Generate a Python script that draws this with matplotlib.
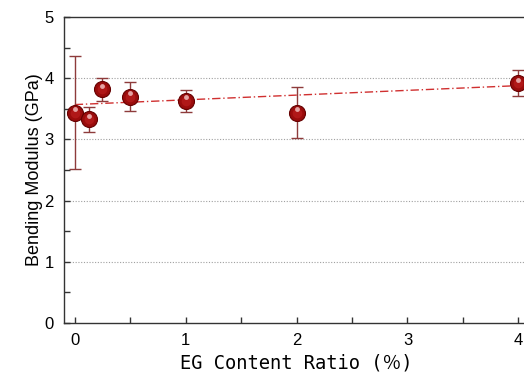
import numpy as np
import matplotlib
matplotlib.use("Agg")
import matplotlib.pyplot as plt
import matplotlib.transforms as mtransforms

# EG content ratio (%) and bending modulus (GPa)
eg_ratio = [0, 0.125, 0.25, 0.5, 1, 2, 4]
modulus = [3.44, 3.33, 3.82, 3.70, 3.63, 3.44, 3.92]
modulus_err = [0.92, 0.20, 0.19, 0.24, 0.18, 0.42, 0.21]

# linear trend line endpoints
trend_x = [0, 4]
trend_y = [3.57, 3.88]

fig = plt.figure(figsize=(5.24, 3.8), dpi=100)
ax = fig.add_axes([0.1215, 0.15, 0.889, 0.805])

ax.plot(trend_x, trend_y, color="#d03030", lw=1.0, ls=(0, (6, 2, 1, 2)), zorder=2)

ax.errorbar(eg_ratio, modulus, yerr=modulus_err, fmt="none",
            ecolor="#8e3b3b", elinewidth=1.0, capsize=4, capthick=1.0, zorder=3)

ax.plot(eg_ratio, modulus, "o", ms=11.5, color="#9a0c0c", mec="#650000",
        mew=0.8, zorder=4)
ax.plot(eg_ratio, modulus, "o", ms=7, color="#b01818", mec="none", zorder=5)
shift = mtransforms.ScaledTranslation(0, 2.5 / 72, fig.dpi_scale_trans)
ax.plot(eg_ratio, modulus, "o", ms=3.5, color="#efbcbc", mec="none",
        alpha=0.85, zorder=6, transform=ax.transData + shift)

ax.set_xlim(-0.1, 4.1)
ax.set_ylim(0, 5)
ax.set_xticks([0, 1, 2, 3, 4])
ax.set_xticks(np.arange(0.5, 4, 1.0), minor=True)
ax.set_yticks([0, 1, 2, 3, 4, 5])
ax.set_yticks(np.arange(0.5, 5, 1.0), minor=True)

for y in [1, 2, 3, 4]:
    ax.axhline(y, color="#a0a0a0", lw=0.8, ls=(0, (1, 1.5)), zorder=1)

for side in ["left", "bottom", "top"]:
    ax.spines[side].set_color("#333333")
    ax.spines[side].set_linewidth(1.0)
ax.spines["right"].set_visible(False)

ax.tick_params(which="both", direction="in", length=4, width=1, color="#333333",
               labelsize=12, pad=7, top=False, right=False)
for lab in ax.get_xticklabels() + ax.get_yticklabels():
    lab.set_family(["Liberation Sans", "DejaVu Sans"])

ax.set_ylabel("Bending Modulus (GPa)", fontsize=13,
              family=["Liberation Sans", "DejaVu Sans"], labelpad=1)
ax.set_xlabel("EG Content Ratio (％)", fontsize=13.5,
              family=["DejaVu Sans Mono", "Noto Sans CJK JP"], labelpad=4)

fig.savefig("out.png", dpi=100)
